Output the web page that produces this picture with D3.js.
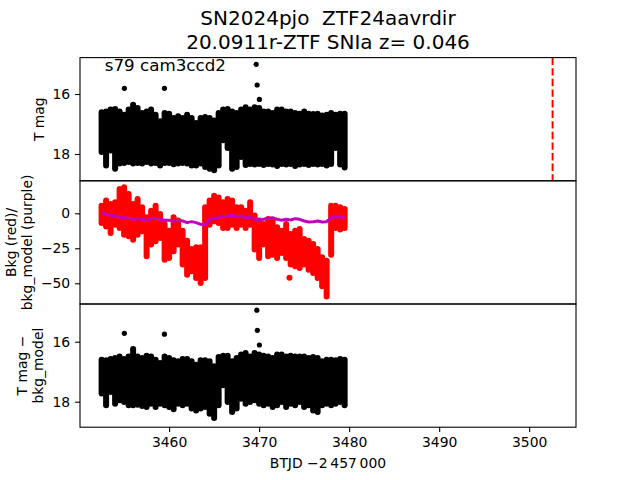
<!DOCTYPE html>
<html><head><meta charset="utf-8">
<script src="https://cdn.jsdelivr.net/npm/d3@7"></script>
<style>
html,body{margin:0;padding:0;background:#fff;}
svg text{font-family:"DejaVu Sans",sans-serif;fill:#000;white-space:pre;}
</style></head>
<body>
<svg id="chart" width="640" height="480"></svg>
<script>
// ---------------- data ----------------
const titleLines = ["SN2024pjo  ZTF24aavrdir", "20.0911r-ZTF SNIa z= 0.046"];
const sectorLabel = "s79 cam3ccd2";
const xTicks = [3460, 3470, 3480, 3490, 3500];
const magTicks = [16, 18];
const bkgTicks = [0, -25, -50];
const peakTime = 3502.6;

// time bins (BTJD - 2457000)
const tBins = [3452.5,3453,3453.5,3454,3454.5,3455,3455.5,3456,3456.5,3457,3457.5,3458,3458.5,3459,3459.5,
  3460,3460.5,3461,3461.5,3462,3462.5,3463,3463.5,3464,3464.5,3465,3465.5,3466,3466.5,3467,3467.5,
  3468,3468.5,3469,3469.5,3470,3470.5,3471,3471.5,3472,3472.5,3473,3473.5,3474,3474.5,3475,3475.5,
  3476,3476.5,3477,3477.5,3478,3478.5,3479,3479.5];

// panel 1: T mag envelope (bright edge / faint edge)
const magTop = [16.51,16.48,16.42,16.40,16.48,16.59,16.42,16.26,16.37,16.53,16.48,16.42,16.59,16.81,16.53,
  16.56,16.70,16.64,16.70,16.59,16.70,16.87,16.70,16.67,16.70,16.78,16.53,16.42,16.40,16.48,16.53,
  16.42,16.34,16.42,16.34,16.37,16.48,16.48,16.53,16.42,16.42,16.48,16.48,16.53,16.56,16.48,16.56,
  16.57,16.56,16.62,16.59,16.53,16.59,16.56,16.56];
const magBot = [18.03,18.48,17.98,18.59,18.42,18.40,18.37,18.42,18.40,18.42,18.37,18.42,18.40,18.48,18.40,
  18.40,18.44,18.42,18.40,18.42,18.48,18.48,18.42,18.53,18.59,18.64,18.48,17.64,17.90,18.59,18.53,
  18.20,18.47,18.43,18.45,18.43,18.47,18.43,18.45,18.50,18.43,18.45,18.43,18.50,18.45,18.43,18.47,
  18.43,18.45,18.43,18.48,18.43,17.90,18.45,18.55];
const magOutT = [3455.03, 3459.48, 3469.67, 3469.78, 3470.03];
const magOutV = [15.81, 15.81, 15.01, 15.70, 16.18];

// panel 2: background (red) envelope and bkg model (purple)
const bkgHi = [7.6,11.2,8.8,10.0,19.5,20.7,15.9,8.8,12.4,6.4,-0.7,4.0,7.6,1.6,-5.5,
  -10.3,-0.7,-3.1,-10.3,-17.4,-23.4,-22.2,-22.2,6.4,11.2,14.7,13.5,10.0,12.4,11.2,6.4,
  6.4,4.0,10.0,0.5,-3.1,-5.5,-1.9,-3.1,-7.9,-10.3,-5.5,-12.6,-10.3,-9.1,-16.2,-17.4,
  -19.8,-23.4,-29.3,-31.7,7.6,7.6,6.4,5.2];
const bkgLo = [-9.1,-11.5,-16.2,-10.3,-12.6,-17.4,-18.6,-21.0,-17.4,-15.0,-32.9,-24.5,-22.2,-19.8,-35.3,
  -34.1,-29.3,-24.5,-38.8,-46.0,-43.6,-48.4,-51.9,-48.4,-10.3,-7.9,-9.1,-12.6,-12.6,-10.3,-12.6,
  -10.3,-12.6,-10.3,-28.1,-34.1,-24.5,-32.9,-31.7,-34.1,-30.5,-34.1,-38.8,-40.0,-41.2,-38.8,-42.4,
  -44.8,-48.4,-54.3,-61.5,-31.7,-12.6,-13.8,-12.6];
const bkgModel = [-0.03,-0.74,-1.45,-1.93,-2.64,-3.12,-3.6,-4.31,-3.83,-4.31,-5.02,-3.83,-3.6,-4.31,-5.02,
  -5.02,-5.5,-5.02,-5.5,-6.69,-5.98,-6.69,-7.88,-8.36,-4.31,-3.6,-3.12,-2.4,-1.93,-1.45,-2.64,
  -1.93,-3.12,-2.64,-4.31,-5.02,-4.31,-3.6,-3.12,-4.31,-5.02,-4.31,-4.79,-3.83,-4.31,-5.5,-6.21,
  -5.98,-5.5,-6.21,-5.98,-3.12,-2.64,-2.64,-3.12];
const bkgOutT = [3473.37];
const bkgOutV = [-46.0];

// panel 3: T mag - bkg_model envelope
const diffTop = [16.50,16.52,16.48,16.44,16.39,16.48,16.39,16.14,16.39,16.44,16.37,16.39,16.50,16.61,16.39,
  16.44,16.52,16.55,16.48,16.48,16.55,16.67,16.52,16.52,16.55,16.72,16.41,16.37,16.37,16.55,16.44,
  16.33,16.28,16.39,16.28,16.33,16.37,16.39,16.44,16.33,16.33,16.39,16.37,16.39,16.39,16.39,16.44,
  16.41,16.44,16.55,16.50,16.50,16.52,16.48,16.50];
const diffBot = [17.83,18.22,17.78,18.17,18.05,18.11,18.22,18.22,18.20,18.24,18.28,18.17,18.28,18.17,18.22,
  18.28,18.35,18.17,18.22,18.17,18.33,18.39,18.33,18.28,18.50,18.64,18.22,17.55,18.11,18.44,18.33,
  18.00,18.17,18.11,18.05,18.17,18.22,18.17,18.28,18.22,18.11,18.28,18.17,18.22,18.11,18.28,18.22,
  18.39,18.44,18.22,18.17,18.22,18.17,18.11,18.22];
const diffOutT = [3455.03, 3459.48, 3469.74, 3469.80, 3470.03];
const diffOutV = [15.72, 15.75, 14.95, 15.62, 16.11];

// ---------------- layout ----------------
const W = 640, H = 480;
const L = 80, R = 576, T = 57.6, B = 427.2;
const ph = (B - T) / 3;
const panels = [0,1,2].map(i => ({top: T + i*ph, bot: T + (i+1)*ph}));
const fs = 13.9, fsMid = 16.7, fsTitle = 20;
const svg = d3.select("#chart");

const x = d3.scaleLinear().domain([3450.1, 3505.2]).range([L, R]);
const y1 = d3.scaleLinear().domain([14.787, 18.893]).range([panels[0].top, panels[0].bot]);
const y2 = d3.scaleLinear().domain([23.2, -64.8]).range([panels[1].top, panels[1].bot]);
const y3 = d3.scaleLinear().domain([14.743, 18.85]).range([panels[2].top, panels[2].bot]);

// clip paths
const defs = svg.append("defs");
panels.forEach((p,i) => {
  defs.append("clipPath").attr("id","clip"+i).append("rect")
    .attr("x", L).attr("y", p.top).attr("width", R-L).attr("height", p.bot-p.top);
});

const r = 3; // marker radius
function band(g, top, bot, ys, color) {
  g.selectAll(null).data(tBins).join("line")
    .attr("x1", d => x(d)).attr("x2", d => x(d))
    .attr("y1", (d,i) => { const a = ys(top[i]), b = ys(bot[i]); return Math.min(a,b) + r; })
    .attr("y2", (d,i) => { const a = ys(top[i]), b = ys(bot[i]); return Math.max(Math.max(a,b) - r, Math.min(a,b) + r); })
    .attr("stroke", color).attr("stroke-width", 2*r).attr("stroke-linecap","round");
}
function dots(g, ts, vs, ys, color, rad) {
  g.selectAll(null).data(ts).join("circle")
    .attr("cx", d => x(d)).attr("cy", (d,i) => ys(vs[i])).attr("r", rad).attr("fill", color);
}

// panel 1
const g1 = svg.append("g").attr("clip-path","url(#clip0)");
band(g1, magTop, magBot, y1, "#000");
dots(g1, magOutT, magOutV, y1, "#000", 2.6);
g1.append("line").attr("x1", x(peakTime)).attr("x2", x(peakTime))
  .attr("y1", panels[0].top).attr("y2", panels[0].bot)
  .attr("stroke", "red").attr("stroke-width", 2).attr("stroke-dasharray", "7.4,3.2");

// panel 2
const g2 = svg.append("g").attr("clip-path","url(#clip1)");
band(g2, bkgHi, bkgLo, y2, "#ff0000");
dots(g2, bkgOutT, bkgOutV, y2, "#ff0000", 3);
g2.append("path").datum(tBins)
  .attr("d", d3.line().x(d => x(d)).y((d,i) => y2(bkgModel[i])))
  .attr("fill","none").attr("stroke","#bf00bf").attr("stroke-width", 3).attr("stroke-linejoin","round");

// panel 3
const g3 = svg.append("g").attr("clip-path","url(#clip2)");
band(g3, diffTop, diffBot, y3, "#000");
dots(g3, diffOutT, diffOutV, y3, "#000", 2.6);

// frames and axes
panels.forEach(p => {
  svg.append("rect").attr("x", L).attr("y", p.top).attr("width", R-L).attr("height", p.bot-p.top)
    .attr("fill","none").attr("stroke","#000").attr("stroke-width", 1.1);
});
function styleAxis(g) {
  g.select(".domain").remove();
  g.selectAll(".tick line").attr("stroke","#000").attr("stroke-width",1.1);
  g.selectAll(".tick text").attr("font-size", fs).attr("font-family","DejaVu Sans").attr("fill","#000");
}
svg.append("g").attr("transform",`translate(${L},0)`)
  .call(d3.axisLeft(y1).tickValues(magTicks).tickFormat(d3.format("d")).tickSize(4.9).tickPadding(4.9)).call(styleAxis);
svg.append("g").attr("transform",`translate(${L},0)`)
  .call(d3.axisLeft(y2).tickValues(bkgTicks).tickFormat(d3.format("d")).tickSize(4.9).tickPadding(4.9)).call(styleAxis);
svg.append("g").attr("transform",`translate(${L},0)`)
  .call(d3.axisLeft(y3).tickValues(magTicks).tickFormat(d3.format("d")).tickSize(4.9).tickPadding(4.9)).call(styleAxis);
svg.append("g").attr("transform",`translate(0,${B})`)
  .call(d3.axisBottom(x).tickValues(xTicks).tickFormat(d3.format("d")).tickSize(4.9).tickPadding(4.9)).call(styleAxis);

// titles and labels
svg.append("text").attr("x", (L+R)/2).attr("y", 25).attr("text-anchor","middle").attr("font-size", fsTitle).text(titleLines[0]);
svg.append("text").attr("x", (L+R)/2).attr("y", 48.5).attr("text-anchor","middle").attr("font-size", fsTitle).text(titleLines[1]);
svg.append("text").attr("x", L + 0.05*(R-L)).attr("y", 71).attr("font-size", fsMid).text(sectorLabel);
svg.append("text").attr("x", (L+R)/2).attr("y", 467.5).attr("text-anchor","middle").attr("font-size", fs)
  .text("BTJD \u22122\u2009457\u2009000");

function ylab(lines, baselines, cy) {
  lines.forEach((s,i) => {
    svg.append("text").attr("transform", `translate(${baselines[i]},${cy}) rotate(-90)`)
      .attr("text-anchor","middle").attr("font-size", fs).text(s);
  });
}
ylab(["T mag"], [43.6], (panels[0].top+panels[0].bot)/2);
ylab(["Bkg (red)/", "bkg_model (purple)"], [16, 32], (panels[1].top+panels[1].bot)/2);
ylab(["T mag \u2212", "bkg_model"], [26.5, 43], (panels[2].top+panels[2].bot)/2);
</script>
</body></html>
